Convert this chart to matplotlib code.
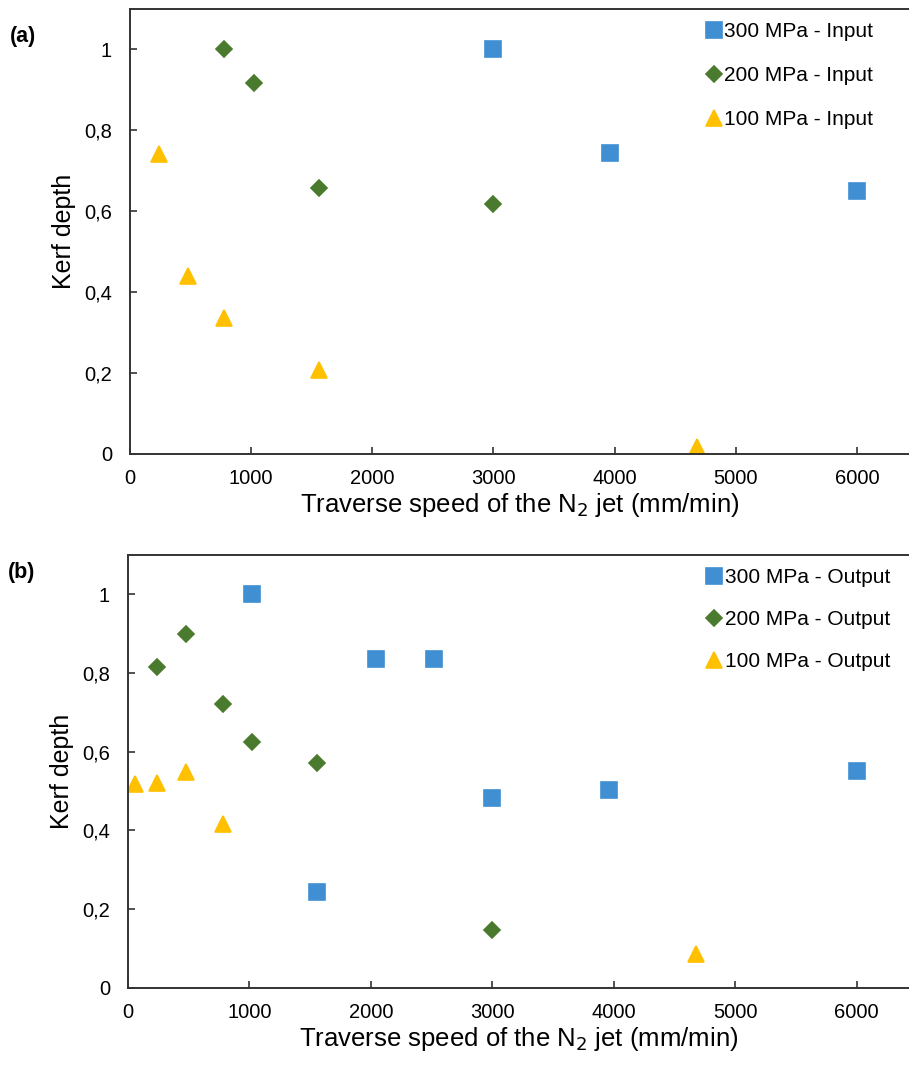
import matplotlib.pyplot as plt
from matplotlib.ticker import FixedLocator, FuncFormatter

plt.rcParams['font.family'] = ['Liberation Sans', 'DejaVu Sans']

# (a) Input
speed_300_in = [3000, 3960, 6000]
depth_300_in = [1.0, 0.743, 0.649]
speed_200_in = [780, 1020, 1560, 3000]
depth_200_in = [1.0, 0.916, 0.657, 0.619]
speed_100_in = [240, 480, 780, 1560, 4680]
depth_100_in = [0.742, 0.441, 0.336, 0.207, 0.018]

# (b) Output
speed_300_out = [1020, 1560, 2040, 2520, 3000, 3960, 6000]
depth_300_out = [1.0, 0.244, 0.835, 0.835, 0.481, 0.503, 0.551]
speed_200_out = [240, 480, 780, 1020, 1560, 3000]
depth_200_out = [0.815, 0.900, 0.720, 0.624, 0.572, 0.146]
speed_100_out = [60, 240, 480, 780, 4680]
depth_100_out = [0.518, 0.521, 0.549, 0.415, 0.085]

blue = '#3f8fd2'
green = '#4a7a2e'
gold = '#ffc000'

xticks = [0, 1000, 2000, 3000, 4000, 5000, 6000]
yticks = [0, 0.2, 0.4, 0.6, 0.8, 1.0]


def fmt_comma(v, pos):
    s = ('%g' % round(v, 2))
    return s.replace('.', ',')


def draw_panel(ax, series, tag, tag_y, leg_x, leg_sp):
    for x, y, m, ms, c, lab in series:
        ax.plot(x, y, linestyle='none', marker=m, markersize=ms, color=c,
                markeredgecolor=c, markeredgewidth=1.2, label=lab)
    ax.set_xlim(0, 6430)
    ax.set_ylim(0, 1.1)
    ax.xaxis.set_major_locator(FixedLocator(xticks))
    ax.yaxis.set_major_locator(FixedLocator(yticks))
    ax.yaxis.set_major_formatter(FuncFormatter(fmt_comma))
    ax.tick_params(axis='both', direction='in', length=5, width=1.2,
                   color='#333333', labelsize=14.5)
    ax.tick_params(axis='x', pad=11)
    ax.tick_params(axis='y', pad=13)
    for side in ['left', 'bottom', 'top']:
        ax.spines[side].set_color('#333333')
        ax.spines[side].set_linewidth(1.4)
    ax.spines['right'].set_visible(False)
    ax.set_xlabel('Traverse speed of the N$_2$ jet (mm/min)', fontsize=18.5, labelpad=2)
    ax.set_ylabel('Kerf depth', fontsize=18, labelpad=6)
    ax.legend(loc='upper left', bbox_to_anchor=(leg_x, 1.0), frameon=False,
              fontsize=15, handlelength=0.8, handletextpad=0.12,
              labelspacing=leg_sp, borderaxespad=0.25)
    ax.text(-0.154, tag_y, tag, transform=ax.transAxes, fontsize=15.5,
            fontweight='bold', ha='left', va='center')


fig = plt.figure(figsize=(9.09, 10.76), dpi=100)
ax1 = fig.add_axes([0.1430, 0.5781, 1 - 0.1430, 0.4136])
ax2 = fig.add_axes([0.1408, 0.0820, 1 - 0.1408, 0.4024])

draw_panel(ax1, [
    (speed_300_in, depth_300_in, 's', 11, blue, '300 MPa - Input'),
    (speed_200_in, depth_200_in, 'D', 8, green, '200 MPa - Input'),
    (speed_100_in, depth_100_in, '^', 11, gold, '100 MPa - Input'),
], '(a)', 0.937, 0.721, 1.2)

draw_panel(ax2, [
    (speed_300_out, depth_300_out, 's', 11, blue, '300 MPa - Output'),
    (speed_200_out, depth_200_out, 'D', 8, green, '200 MPa - Output'),
    (speed_100_out, depth_100_out, '^', 11, gold, '100 MPa - Output'),
], '(b)', 0.96, 0.722, 1.1)

fig.savefig('out.png', dpi=100)
